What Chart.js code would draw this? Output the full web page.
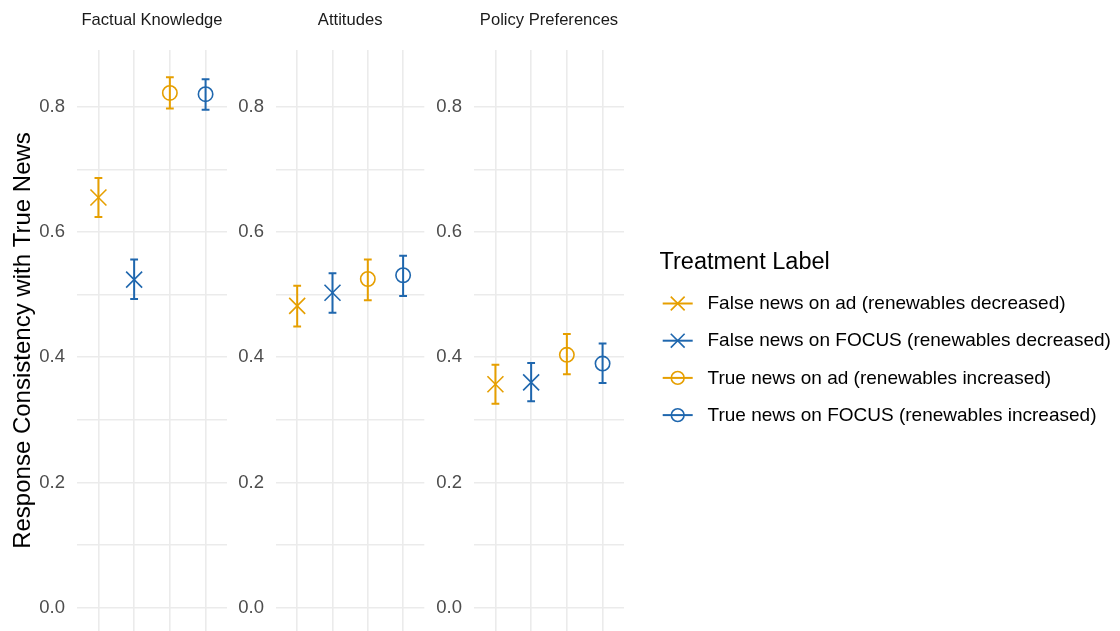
<!DOCTYPE html>
<html>
<head>
<meta charset="utf-8">
<script src="https://cdn.jsdelivr.net/npm/chart.js@4/dist/chart.umd.min.js"></script>
<style>
  html, body { margin: 0; padding: 0; background: #ffffff; }
  #wrap { position: relative; width: 1120px; height: 631px; overflow: hidden; background: #ffffff; }
  canvas { position: absolute; top: 0; }
</style>
</head>
<body>
<div id="wrap">
  <canvas id="p1" width="232" height="631" style="left:0px"></canvas>
  <canvas id="p2" width="200" height="631" style="left:228px"></canvas>
  <canvas id="p3" width="694" height="631" style="left:426px"></canvas>
</div>
<script>
// Outcome panels and treatment groups
const panelNames = ['Factual Knowledge', 'Attitudes', 'Policy Preferences'];
const treatmentLabels = [
  'False news on ad (renewables decreased)',
  'False news on FOCUS (renewables decreased)',
  'True news on ad (renewables increased)',
  'True news on FOCUS (renewables increased)'
];

// Mean response consistency and interval bounds, one value per panel
const falseAdMean    = [0.655, 0.482, 0.357];
const falseAdLow     = [0.624, 0.449, 0.326];
const falseAdHigh    = [0.686, 0.514, 0.388];

const falseFocusMean = [0.524, 0.503, 0.360];
const falseFocusLow  = [0.493, 0.471, 0.330];
const falseFocusHigh = [0.556, 0.534, 0.391];

const trueAdMean     = [0.822, 0.525, 0.404];
const trueAdLow      = [0.797, 0.491, 0.373];
const trueAdHigh     = [0.847, 0.556, 0.437];

const trueFocusMean  = [0.820, 0.531, 0.390];
const trueFocusLow   = [0.795, 0.498, 0.359];
const trueFocusHigh  = [0.844, 0.562, 0.422];

// Axis ticks
const yMajorTicks = [0, 0.2, 0.4, 0.6, 0.8];
const yMinorTicks = [0.1, 0.3, 0.5, 0.7];
const xPositions  = [1, 2, 3, 4];

const seriesMeans = [falseAdMean, falseFocusMean, trueAdMean, trueFocusMean];
const seriesLows  = [falseAdLow, falseFocusLow, trueAdLow, trueFocusLow];
const seriesHighs = [falseAdHigh, falseFocusHigh, trueAdHigh, trueFocusHigh];

const ORANGE = '#E69F00';
const BLUE = '#1F67AE';
const seriesColors = [ORANGE, BLUE, ORANGE, BLUE];
const seriesShapes = ['crossRot', 'crossRot', 'circle', 'circle'];
const FONT = '"Liberation Sans", Arial, Helvetica, sans-serif';
const GRID = '#EBEBEB';
const Y_MIN = -0.0369;
const Y_MAX = 0.8905;

function shapeRadius(shape, big) {
  if (shape === 'crossRot') return big ? 11.3 : 9.8;
  return big ? 7.2 : 6.4;
}

function drawMarker(ctx, shape, color, x, y, r, lw) {
  ctx.save();
  ctx.strokeStyle = color;
  ctx.lineWidth = lw;
  if (Chart.helpers && Chart.helpers.drawPoint) {
    ctx.fillStyle = 'rgba(0,0,0,0)';
    Chart.helpers.drawPoint(ctx, { pointStyle: shape, radius: r, rotation: 0, borderWidth: lw }, x, y);
  } else {
    ctx.beginPath();
    if (shape === 'circle') {
      ctx.arc(x, y, r, 0, Math.PI * 2);
    } else {
      const d = r * Math.SQRT1_2;
      ctx.moveTo(x - d, y - d); ctx.lineTo(x + d, y + d);
      ctx.moveTo(x - d, y + d); ctx.lineTo(x + d, y - d);
    }
    ctx.stroke();
  }
  ctx.restore();
}

// Keep the plotting area exactly where the layout padding puts it
function clearScalePadding(s) {
  s.paddingTop = 0;
  s.paddingBottom = 0;
  s.paddingLeft = 0;
  s.paddingRight = 0;
}

// Vertical interval bars with short caps, positioned through the chart scales
const errorBarPlugin = {
  id: 'errorBars',
  beforeDatasetsDraw(chart) {
    const { ctx, scales: { x, y } } = chart;
    chart.data.datasets.forEach((ds) => {
      ds.data.forEach(pt => {
        const px = x.getPixelForValue(pt.x);
        const yl = y.getPixelForValue(pt.lo);
        const yh = y.getPixelForValue(pt.hi);
        const cap = 3.9;
        ctx.save();
        ctx.strokeStyle = ds.borderColor;
        ctx.lineWidth = 2;
        ctx.lineCap = 'butt';
        ctx.beginPath();
        ctx.moveTo(px, yl); ctx.lineTo(px, yh);
        ctx.moveTo(px - cap, yl); ctx.lineTo(px + cap, yl);
        ctx.moveTo(px - cap, yh); ctx.lineTo(px + cap, yh);
        ctx.stroke();
        ctx.restore();
      });
    });
  }
};

// Strip title centred over each panel
const facetTitlePlugin = {
  id: 'facetTitle',
  afterDraw(chart, args, opts) {
    const { ctx, chartArea } = chart;
    ctx.save();
    ctx.font = '16.6px ' + FONT;
    ctx.fillStyle = '#1A1A1A';
    ctx.textAlign = 'center';
    ctx.textBaseline = 'middle';
    ctx.fillText(opts.text, (chartArea.left + chartArea.right) / 2, 20);
    ctx.restore();
  }
};

// Legend block to the right of the last panel
const sideLegendPlugin = {
  id: 'sideLegend',
  afterDraw(chart, args, opts) {
    if (!opts.show) return;
    const { ctx } = chart;
    const ox = opts.offsetX;
    ctx.save();
    ctx.fillStyle = '#000000';
    ctx.textAlign = 'left';
    ctx.textBaseline = 'middle';
    ctx.font = '23.5px ' + FONT;
    ctx.fillText('Treatment Label', 659.5 - ox, 263);
    ctx.font = '19px ' + FONT;
    chart.data.datasets.forEach((ds, i) => {
      const cy = 303.5 + i * 37.2;
      ctx.save();
      ctx.strokeStyle = ds.borderColor;
      ctx.lineWidth = 2;
      ctx.beginPath();
      ctx.moveTo(662.7 - ox, cy); ctx.lineTo(692.7 - ox, cy);
      ctx.stroke();
      ctx.restore();
      drawMarker(ctx, ds.pointStyle, ds.borderColor, 677.7 - ox, cy, shapeRadius(ds.pointStyle, false), 1.6);
      ctx.fillStyle = '#000000';
      ctx.fillText(ds.label, 707.5 - ox, cy + 0.5);
    });
    ctx.restore();
  }
};

function buildPanel(canvasId, p, axisWidth, padRight, withTitle, legendOffset) {
  const datasets = treatmentLabels.map((label, k) => ({
    label: label,
    data: [{ x: xPositions[k], y: seriesMeans[k][p], lo: seriesLows[k][p], hi: seriesHighs[k][p] }],
    pointStyle: seriesShapes[k],
    pointRadius: shapeRadius(seriesShapes[k], true),
    pointBorderWidth: 1.6,
    borderColor: seriesColors[k],
    pointBorderColor: seriesColors[k],
    backgroundColor: 'rgba(0,0,0,0)',
    pointBackgroundColor: 'rgba(0,0,0,0)',
    showLine: false,
    clip: false
  }));

  return new Chart(document.getElementById(canvasId), {
    type: 'scatter',
    data: { datasets },
    plugins: [errorBarPlugin, facetTitlePlugin, sideLegendPlugin],
    options: {
      responsive: false,
      animation: false,
      events: [],
      layout: { autoPadding: false, padding: { top: 50, right: padRight, bottom: 0, left: 0 } },
      plugins: {
        legend: { display: false },
        tooltip: { enabled: false },
        facetTitle: { text: panelNames[p] },
        sideLegend: { show: legendOffset !== null, offsetX: legendOffset || 0 }
      },
      scales: {
        x: {
          type: 'linear',
          min: 0.4,
          max: 4.6,
          afterBuildTicks: s => { s.ticks = xPositions.map(v => ({ value: v })); },
          afterFit: s => { s.height = 0; clearScalePadding(s); },
          ticks: { display: false },
          grid: { color: GRID, lineWidth: 1.6, drawTicks: false },
          border: { display: false }
        },
        y: {
          type: 'linear',
          min: Y_MIN,
          max: Y_MAX,
          afterBuildTicks: s => {
            const vals = yMajorTicks.concat(yMinorTicks).sort((a, b) => a - b);
            s.ticks = vals.map(v => ({ value: v }));
          },
          afterFit: s => { s.width = axisWidth; clearScalePadding(s); },
          ticks: {
            autoSkip: false,
            padding: 12,
            color: '#4D4D4D',
            font: { family: FONT, size: 18.5 },
            callback: v => {
              const major = yMajorTicks.some(t => Math.abs(t - v) < 1e-6);
              return major ? v.toFixed(1) : '';
            }
          },
          grid: {
            drawTicks: false,
            lineWidth: 1.6,
            color: GRID
          },
          border: { display: false },
          title: {
            display: withTitle,
            text: 'Response Consistency with True News',
            color: '#000000',
            font: { family: FONT, size: 24 },
            padding: { top: 8.5, bottom: 0 }
          }
        }
      }
    }
  });
}

buildPanel('p1', 0, 77, 5, true, null);
buildPanel('p2', 1, 48, 3.7, false, null);
buildPanel('p3', 2, 48, 496, false, 426);
</script>
</body>
</html>
